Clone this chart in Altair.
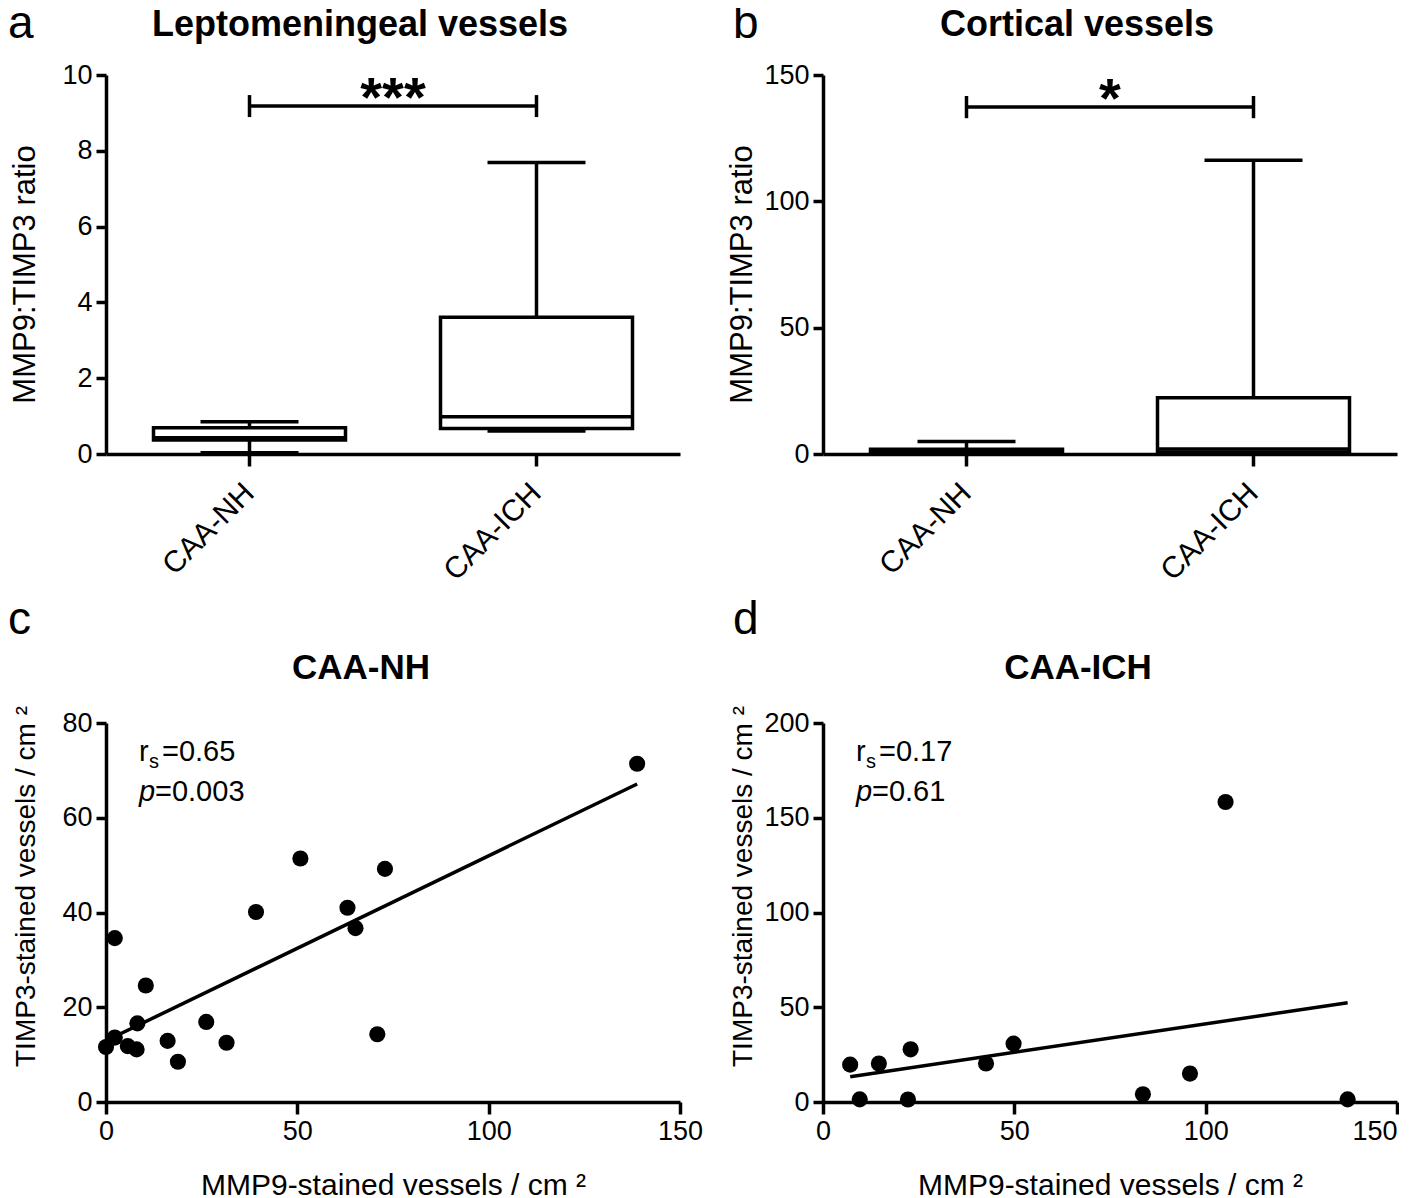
import altair as alt
import pandas as pd

FONT = "Liberation Sans"

# ---------------- data ----------------
groups = ["CAA-NH", "CAA-ICH"]

# panel a: leptomeningeal vessels (MMP9:TIMP3 ratio)
lepto_min = [0.03, 0.61]
lepto_q1 = [0.37, 0.67]
lepto_median = [0.43, 0.98]
lepto_q3 = [0.69, 3.61]
lepto_max = [0.85, 7.69]

# panel b: cortical vessels (MMP9:TIMP3 ratio)
cort_min = [0.1, 0.3]
cort_q1 = [0.3, 0.8]
cort_median = [0.8, 2.0]
cort_q3 = [1.9, 22.3]
cort_max = [4.9, 116.3]

# significance bars (a, b)
sig_bar = [9.18, 137.3]
sig_tick_low = [8.89, 132.9]
sig_tick_high = [9.47, 141.7]
sig_labels = ["***", "*"]

# panel c: CAA-NH scatter
nh_mmp9 = [0.0, 2.3, 2.3, 5.7, 8.0, 8.2, 10.4, 16.1, 18.8, 26.2, 31.5, 39.2,
           50.8, 63.1, 65.2, 70.9, 72.9, 138.8]
nh_timp3 = [11.6, 13.6, 34.6, 11.8, 11.1, 16.6, 24.6, 12.9, 8.5, 16.9, 12.5, 40.1,
            51.4, 41.0, 36.7, 14.3, 49.2, 71.4]

# panel d: CAA-ICH scatter
ich_mmp9 = [7.1, 9.6, 14.6, 22.2, 22.9, 42.6, 49.8, 83.6, 95.9, 105.2, 137.1]
ich_timp3 = [19.7, 1.4, 20.3, 1.3, 27.8, 20.3, 30.8, 4.1, 15.0, 158.3, 1.4]

panel_letters = ["a", "b", "c", "d"]
panel_titles = ["Leptomeningeal vessels", "Cortical vessels", "CAA-NH", "CAA-ICH"]
rs_values = ["=0.65", "=0.17"]
p_values = ["=0.003", "=0.61"]

W = 574
H = 379
LW = 3.5


def txt(s, x, y, size, weight="normal", style="normal", align="left", baseline="alphabetic"):
    return alt.Chart(alt.Data(values=[{}])).mark_text(
        text=s, fontSize=size, fontWeight=weight, fontStyle=style, align=align,
        baseline=baseline, font=FONT, color="black"
    ).encode(x=alt.value(x), y=alt.value(y))


def y_axis(values, title, title_y, title_size):
    return alt.Axis(values=values, title=title, format="d", grid=False,
                    domainWidth=LW, domainColor="black", tickWidth=LW, tickColor="black",
                    tickSize=10, labelFontSize=27, labelPadding=4, labelFont=FONT,
                    labelColor="black", labelFlush=False, titleFont=FONT,
                    titleFontSize=title_size, titleFontWeight="normal", titleColor="black",
                    titleX=-72, titleY=title_y, titleBaseline="alphabetic",
                    titleAlign="center")


def box_panel(idx, mins, q1s, meds, q3s, maxs, ymax, ystep, letter_x):
    df = pd.DataFrame({"group": groups, "lo": mins, "q1": q1s, "med": meds,
                       "q3": q3s, "hi": maxs,
                       "sig": [sig_bar[idx]] * 2,
                       "slo": [sig_tick_low[idx]] * 2,
                       "shi": [sig_tick_high[idx]] * 2})
    xs = alt.Scale(domain=groups, paddingInner=0, paddingOuter=0)
    ys = alt.Scale(domain=[0, ymax], nice=False, zero=True)
    xaxis = alt.Axis(title=None, labelAngle=-45, labelAlign="right", labelBaseline="middle",
                     labelFontSize=30, labelFont=FONT, labelColor="black", labelPadding=22,
                     domainWidth=LW, domainColor="black", tickWidth=LW, tickColor="black",
                     tickSize=12, grid=False)
    yvals = list(range(0, int(ymax) + 1, ystep))
    yaxis = y_axis(yvals, "MMP9:TIMP3 ratio", 199, 31)
    base = alt.Chart(df)

    def X():
        return alt.X("group:N", scale=xs, sort=groups, axis=xaxis)

    def Y(f):
        return alt.Y(f, scale=ys, axis=yaxis)

    whisk_lo = base.mark_rule(color="black", strokeWidth=LW).encode(
        x=X(), y=Y("lo:Q"), y2="q1:Q")
    whisk_hi = base.mark_rule(color="black", strokeWidth=LW).encode(
        x=X(), y=Y("q3:Q"), y2="hi:Q")
    box = base.mark_bar(size=192, fill="white", stroke="black", strokeWidth=LW).encode(
        x=X(), y=Y("q1:Q"), y2="q3:Q")
    med = base.mark_tick(size=192, thickness=LW, color="black", opacity=1).encode(
        x=X(), y=Y("med:Q"))
    cap_lo = base.mark_tick(size=98, thickness=LW, color="black", opacity=1).encode(
        x=X(), y=Y("lo:Q"))
    cap_hi = base.mark_tick(size=98, thickness=LW, color="black", opacity=1).encode(
        x=X(), y=Y("hi:Q"))
    sig_line = base.mark_line(color="black", strokeWidth=LW).encode(
        x=X(), y=Y("sig:Q"))
    sig_ticks = base.mark_rule(color="black", strokeWidth=LW).encode(
        x=X(), y=Y("slo:Q"), y2="shi:Q")
    stars = alt.Chart(pd.DataFrame({"sig": [sig_bar[idx]], "lab": [sig_labels[idx]]})).mark_text(
        fontSize=56, fontWeight="bold", font=FONT, color="black", align="center",
        baseline="alphabetic", dy=10).encode(
        x=alt.value(W / 2), y=Y("sig:Q"), text="lab:N")

    letter = txt(panel_letters[idx], letter_x, -37, 46)
    title = txt(panel_titles[idx], 254, -39, 36, weight="bold", align="center")
    return alt.layer(whisk_lo, whisk_hi, box, med, cap_lo, cap_hi, sig_line, sig_ticks,
                     stars, letter, title).properties(width=W, height=H)


def scatter_panel(idx, xs_vals, ys_vals, ymax, ystep, letter_x, last_label_inside):
    df = pd.DataFrame({"mmp9": xs_vals, "timp3": ys_vals})
    xs = alt.Scale(domain=[0, 150], nice=False)
    ys = alt.Scale(domain=[0, ymax], nice=False)
    if last_label_inside:
        label_align = {"condition": {"test": "datum.value >= 150", "value": "right"},
                       "value": "center"}
    else:
        label_align = "center"
    xaxis = alt.Axis(values=[0, 50, 100, 150], format="d", title="MMP9-stained vessels / cm ²",
                     grid=False, domainWidth=LW, domainColor="black", tickWidth=LW,
                     tickColor="black", tickSize=12, labelFontSize=27, labelPadding=4,
                     labelFont=FONT, labelColor="black", labelFlush=False,
                     labelAlign=label_align,
                     titleFont=FONT, titleFontSize=30,
                     titleFontWeight="normal", titleColor="black", titleY=92,
                     titleBaseline="alphabetic")
    yvals = list(range(0, int(ymax) + 1, ystep))
    yaxis = y_axis(yvals, "TIMP3-stained vessels / cm ²", 163, 28)
    pts = alt.Chart(df).mark_circle(size=260, color="black", opacity=1).encode(
        x=alt.X("mmp9:Q", scale=xs, axis=xaxis),
        y=alt.Y("timp3:Q", scale=ys, axis=yaxis))
    line = alt.Chart(df).transform_regression("mmp9", "timp3").mark_line(
        color="black", strokeWidth=LW).encode(
        x=alt.X("mmp9:Q", scale=xs, axis=xaxis),
        y=alt.Y("timp3:Q", scale=ys, axis=yaxis))
    k = idx - 2
    ann = [
        txt("r", 33, 38, 29),
        txt("s", 43, 45, 20),
        txt(rs_values[k], 56, 38, 29),
        txt("p", 33, 78, 29, style="italic"),
        txt(p_values[k], 49, 78, 29),
    ]
    letter = txt(panel_letters[idx], letter_x, -89, 46)
    title = txt(panel_titles[idx], 255, -44, 35, weight="bold", align="center")
    return alt.layer(pts, line, *ann, letter, title).properties(width=W, height=H)


pa = box_panel(0, lepto_min, lepto_q1, lepto_median, lepto_q3, lepto_max, 10, 2, -98)
pb = box_panel(1, cort_min, cort_q1, cort_median, cort_q3, cort_max, 150, 50, -90)
pc = scatter_panel(2, nh_mmp9, nh_timp3, 80, 20, -98, False)
pd_ = scatter_panel(3, ich_mmp9, ich_timp3, 200, 50, -90, True)

chart = alt.concat(pa, pb, pc, pd_, columns=2, bounds="flush",
                   spacing=alt.RowColnumber(row=269, column=143)).properties(
    padding={"left": 0, "top": -7, "right": 0, "bottom": 0}, background="white"
).configure_view(stroke=None)

chart.save("out.html", embed_options={"renderer": "svg", "actions": False})
